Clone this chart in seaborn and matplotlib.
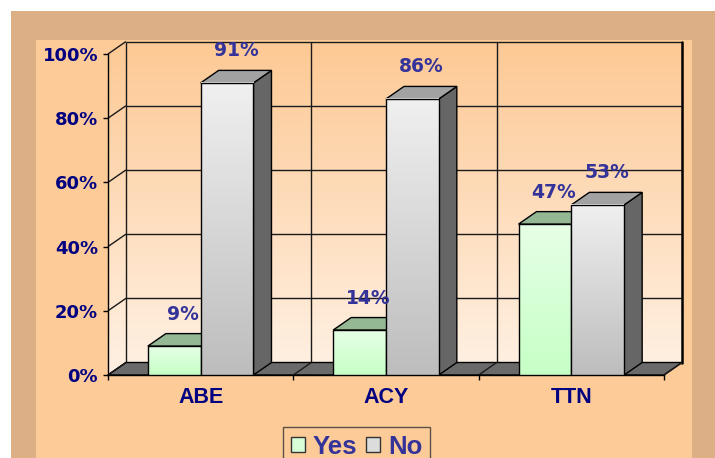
import numpy as np
import pandas as pd
import matplotlib
matplotlib.use("Agg")
import matplotlib.pyplot as plt
import seaborn as sns
from matplotlib.patches import Polygon, Rectangle, Patch
from matplotlib.colors import to_rgb

# ---------------- data ----------------
categories = ["ABE", "ACY", "TTN"]
series = ["Yes", "No"]
yes_values = [9, 14, 47]
no_values = [91, 86, 53]
y_ticks = [0, 20, 40, 60, 80, 100]
y_tick_labels = ["0%", "20%", "40%", "60%", "80%", "100%"]

df = pd.DataFrame({
    "cat": categories * 2,
    "series": ["Yes"] * len(categories) + ["No"] * len(categories),
    "value": yes_values + no_values,
})

# ---------------- style ----------------
sns.set_theme(style="white")
plt.rcParams["font.family"] = ["DejaVu Sans"]

W, H = 715, 458
fig = plt.figure(figsize=(W / 100, H / 100), dpi=100, facecolor="white")


def fx(px):
    return px / W


def fy(py):
    return 1 - py / H


# background frames
fig.add_artist(Rectangle((fx(11), 0), fx(715) - fx(11), fy(11), transform=fig.transFigure,
                         fc="#DCAF87", ec="none", zorder=-10))
fig.add_artist(Rectangle((fx(36), 0), fx(692) - fx(36), fy(40), transform=fig.transFigure,
                         fc="#FDCB98", ec="none", zorder=-9))

# geometry of the 3D look (pixels)
front_left, front_right, front_top, front_bottom = 108, 664, 54, 375
depth_x_px, depth_y_px = 18, 12.5
ax = fig.add_axes([fx(front_left), fy(front_bottom),
                   fx(front_right + depth_x_px) - fx(front_left),
                   fy(front_top - depth_y_px) - fy(front_bottom)])
n = len(categories)
DX = depth_x_px / ((front_right - front_left) / n)
DY = depth_y_px / ((front_bottom - front_top) / 100)

ax.set_facecolor("none")


# ---------------- walls ----------------
def vgrad(top, bottom, n_=256):
    t = np.linspace(0, 1, n_)[:, None]
    a = np.array(to_rgb(top))
    b = np.array(to_rgb(bottom))
    return (a * (1 - t) + b * t).reshape(n_, 1, 3)


x0w, x1w = -0.5, n - 0.5
wall_poly = Polygon([(x0w, 0), (x0w, 100), (x0w + DX, 100 + DY), (x1w + DX, 100 + DY),
                     (x1w + DX, DY), (x1w, 0)], closed=True, transform=ax.transData,
                    fc="none", ec="none")
ax.add_patch(wall_poly)
im = ax.imshow(vgrad("#FDC994", "#FFF1E4"), extent=(x0w, x1w + DX, 0, 100 + DY),
               aspect="auto", origin="upper", interpolation="bilinear", zorder=1)
im.set_clip_path(wall_poly)

line_kw = dict(color="#1a1a1a", lw=1, clip_on=False, solid_capstyle="butt")
for v in y_ticks:
    ax.plot([x0w + DX, x1w + DX], [v + DY, v + DY], zorder=2, **line_kw)
    ax.plot([x0w, x0w + DX], [v, v + DY], zorder=2, **line_kw)
for b in np.arange(0.5, n - 0.5, 1.0):
    ax.plot([b + DX, b + DX], [DY, 100 + DY], zorder=2, **line_kw)
ax.plot([x0w + DX, x0w + DX], [DY, 100 + DY], zorder=2, **line_kw)
ax.plot([x1w + DX, x1w + DX], [DY, 100 + DY], zorder=2, color="black", lw=1.8, clip_on=False)

# floor
floor = Polygon([(x0w, 0), (x1w, 0), (x1w + DX, DY), (x0w + DX, DY)], closed=True,
                fc="#6A6A6A", ec="black", lw=1, zorder=3, clip_on=False)
ax.add_patch(floor)
for b in np.arange(-0.5, n, 1.0):
    ax.plot([b, b + DX], [0, DY], zorder=4, **line_kw)

# ---------------- bars ----------------
sns.barplot(data=df, x="cat", y="value", hue="series", order=categories, hue_order=series,
            palette={"Yes": "#D8FFD8", "No": "#D8D8D8"}, width=0.57, gap=0,
            errorbar=None, edgecolor="black", linewidth=1, legend=False, ax=ax)

face_cols = {
    "Yes": dict(top="#93B893", front=("#E6FFE6", "#C6FFC6"), side="#6E956E"),
    "No": dict(top="#A2A2A2", front=("#F0F0F0", "#BDBDBD"), side="#666666"),
}
for p in list(ax.patches):
    if not isinstance(p, Rectangle):
        continue
    x0 = p.get_x()
    w = p.get_width()
    h = p.get_height()
    x1 = x0 + w
    c = x0 + w / 2
    idx = int(round(c))
    s = "Yes" if c < idx else "No"
    k = idx * 2 + (0 if s == "Yes" else 1)
    base = 10 + k * 5
    cols = face_cols[s]
    p.set_facecolor("none")
    p.set_zorder(base + 3)
    ax.imshow(vgrad(*cols["front"]), extent=(x0, x1, 0, h), aspect="auto", origin="upper",
              interpolation="bilinear", zorder=base + 2)
    side = Polygon([(x1, 0), (x1 + DX, DY), (x1 + DX, h + DY), (x1, h)], closed=True,
                   fc=cols["side"], ec="black", lw=1, zorder=base + 1, clip_on=False)
    ax.add_patch(side)
    top = Polygon([(x0, h), (x1, h), (x1 + DX, h + DY), (x0 + DX, h + DY)], closed=True,
                  fc=cols["top"], ec="black", lw=1, zorder=base + 1, clip_on=False)
    ax.add_patch(top)
    ax.annotate(f"{int(h)}%", xy=(c + DX / 2, h + DY), xytext=(0, 14),
                textcoords="offset points", ha="center", va="center",
                fontsize=13.5, fontweight="bold", color="#333399", zorder=60)

# ---------------- axes ----------------
ax.set_xlim(x0w, x1w + DX)
ax.set_ylim(0, 100 + DY)
ax.set_xlabel("")
ax.set_ylabel("")
for sp in ["top", "right"]:
    ax.spines[sp].set_visible(False)
ax.spines["left"].set_bounds(0, 100)
ax.spines["left"].set_color("black")
ax.spines["left"].set_linewidth(1)
ax.spines["left"].set_zorder(5)
ax.spines["bottom"].set_bounds(x0w, x1w)
ax.spines["bottom"].set_color("black")
ax.spines["bottom"].set_linewidth(1)
ax.spines["bottom"].set_zorder(5)

ax.set_yticks(y_ticks, labels=y_tick_labels, fontweight="bold", color="#000080", fontsize=13)
ax.tick_params(axis="y", length=3.6, width=1, color="black", pad=3.5, left=True, direction="out")
ax.set_xticks(range(n), labels=categories, fontweight="bold", color="#000080", fontsize=15.5,
              fontfamily="Liberation Sans")
ax.set_xticks(np.arange(-0.5, n, 1.0), minor=True)
ax.tick_params(axis="x", which="major", length=0, pad=8.5)
ax.tick_params(axis="x", which="minor", length=3.6, width=1, color="black", direction="out",
               bottom=True)

# ---------------- legend ----------------
handles = [Patch(fc="#D8FFD8", ec="#333333", lw=1), Patch(fc="#DCDCDC", ec="#333333", lw=1)]
leg = fig.legend(handles, series, ncol=2, loc="upper left",
                 bbox_to_anchor=(fx(283), fy(427)), frameon=True, fancybox=False,
                 prop=dict(family="Liberation Sans", weight="bold", size=18.5),
                 handlelength=0.55, handleheight=0.55, handletextpad=0.3, columnspacing=0.35,
                 borderpad=0.3, borderaxespad=0)
leg.get_frame().set_edgecolor("#333333")
leg.get_frame().set_facecolor("none")
leg.get_frame().set_linewidth(1)
for t in leg.get_texts():
    t.set_color("#333399")

fig.savefig("out.png", dpi=100, facecolor="white")
